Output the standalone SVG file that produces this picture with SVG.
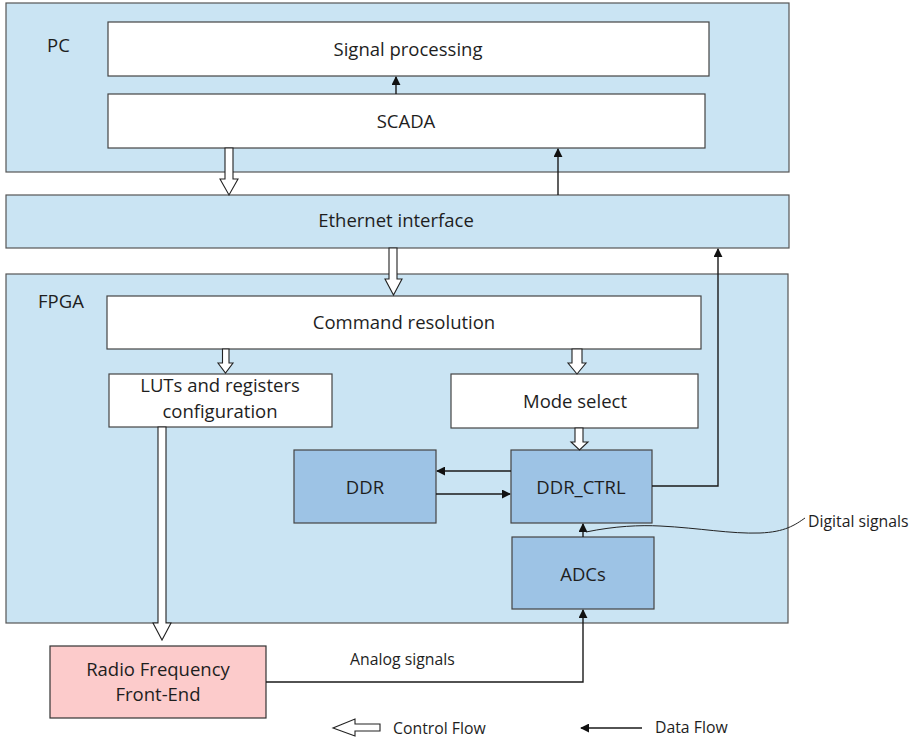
<svg xmlns="http://www.w3.org/2000/svg" width="917" height="741" viewBox="0 0 917 741">
  <defs>
    <style>
      .container { fill: #cae4f3; stroke: #555; stroke-width: 1.2; }
      .block { fill: #ffffff; stroke: #444; stroke-width: 1.2; }
      .dark { fill: #9dc3e5; stroke: #444; stroke-width: 1.2; }
      .rf { fill: #fccbcb; stroke: #333; stroke-width: 1.2; }
      .lbl { font-family: "Open Sans", "Liberation Sans", sans-serif; font-size: 18.5px; fill: #1e1e1e; }
      .mid { text-anchor: middle; }
      .small { font-size: 15.8px; }
      .ctrl { fill: #ffffff; stroke: #222; stroke-width: 1.1; stroke-linejoin: miter; }
      .data { fill: none; stroke: #1a1a1a; stroke-width: 1.4; }
    </style>
    <marker id="ah" viewBox="0 0 10 10" refX="9" refY="5" markerWidth="9" markerHeight="9" markerUnits="userSpaceOnUse" orient="auto">
      <path d="M0,0 L10,5 L0,10 z" fill="#111"/>
    </marker>
  </defs>

  <!-- PC -->
  <g id="pc">
    <rect class="container" x="6" y="3" width="783" height="169"/>
    <text class="lbl" x="47" y="52">PC</text>
  </g>
  <g id="signal-processing">
    <rect class="block" x="108" y="22" width="601" height="54"/>
    <text class="lbl mid" x="408" y="56">Signal processing</text>
  </g>
  <g id="scada">
    <rect class="block" x="108" y="94" width="597" height="54"/>
    <text class="lbl mid" x="406" y="128">SCADA</text>
  </g>

  <!-- Ethernet -->
  <g id="ethernet">
    <rect class="container" x="6" y="195" width="783" height="53"/>
    <text class="lbl mid" x="396" y="227">Ethernet interface</text>
  </g>

  <!-- FPGA -->
  <g id="fpga">
    <rect class="container" x="6" y="274" width="782" height="349"/>
    <text class="lbl" x="38" y="308">FPGA</text>
  </g>
  <g id="command-resolution">
    <rect class="block" x="107" y="296" width="594" height="53"/>
    <text class="lbl mid" x="404" y="329">Command resolution</text>
  </g>
  <g id="luts">
    <rect class="block" x="109" y="374" width="223" height="53"/>
    <text class="lbl mid" x="220" y="392">LUTs and registers</text>
    <text class="lbl mid" x="220" y="418">configuration</text>
  </g>
  <g id="mode-select">
    <rect class="block" x="451" y="374" width="247" height="54"/>
    <text class="lbl mid" x="575" y="408">Mode select</text>
  </g>
  <g id="ddr">
    <rect class="dark" x="294" y="450" width="142" height="73"/>
    <text class="lbl mid" x="365" y="494">DDR</text>
  </g>
  <g id="ddr-ctrl">
    <rect class="dark" x="511" y="450" width="141" height="73"/>
    <text class="lbl mid" x="581" y="494">DDR_CTRL</text>
  </g>
  <g id="adcs">
    <rect class="dark" x="512" y="537" width="142" height="72"/>
    <text class="lbl mid" x="583" y="581">ADCs</text>
  </g>

  <!-- RF front-end -->
  <g id="rf-front-end">
    <rect class="rf" x="50" y="646" width="216" height="72"/>
    <text class="lbl mid" x="158" y="676">Radio Frequency</text>
    <text class="lbl mid" x="158" y="701">Front-End</text>
  </g>

  <!-- Connectors -->
  <g id="connectors">
    <!-- control flow (hollow block arrows) -->
    <path class="ctrl" d="M225,148 L233,148 L233,179 L238,179 L229,195 L220,179 L225,179 Z"/>
    <path class="ctrl" d="M389,248 L397,248 L397,279 L402,279 L393.5,295 L385,279 L389,279 Z"/>
    <path class="ctrl" d="M222.5,349 L229,349 L229,363 L233,363 L225.5,373 L218,363 L222.5,363 Z"/>
    <path class="ctrl" d="M572,349 L582,349 L582,363 L586,363 L577,374 L568,363 L572,363 Z"/>
    <path class="ctrl" d="M575,428 L583,428 L583,442 L588,442 L579.5,450 L571,442 L575,442 Z"/>
    <path class="ctrl" d="M158,427 L166,427 L166,623 L171,623 L162,640 L153,623 L158,623 Z"/>

    <!-- data flow -->
    <line class="data" x1="396" y1="94" x2="396" y2="77" marker-end="url(#ah)"/>
    <line class="data" x1="558" y1="195" x2="558" y2="149" marker-end="url(#ah)"/>
    <polyline class="data" points="652,486 718,486 718,249" marker-end="url(#ah)"/>
    <line class="data" x1="511" y1="471" x2="437" y2="471" marker-end="url(#ah)"/>
    <line class="data" x1="436" y1="494" x2="510" y2="494" marker-end="url(#ah)"/>
    <line class="data" x1="583" y1="537" x2="583" y2="524" marker-end="url(#ah)"/>
    <polyline class="data" points="266,682 583,682 583,610" marker-end="url(#ah)"/>

    <!-- callout for the digital signals -->
    <path d="M586,532 C615,526 640,525 660,526 C700,528 730,534 760,533 C785,532 795,525 805,518" fill="none" stroke="#222" stroke-width="1"/>

    <text class="lbl small" x="350" y="665">Analog signals</text>
    <text class="lbl small" x="808" y="527">Digital signals</text>
  </g>

  <!-- Legend -->
  <g id="legend">
    <path class="ctrl" d="M380,724 L380,731 L355,731 L355,736 L333,728 L355,719 L355,724 Z"/>
    <text class="lbl small" x="393" y="734">Control Flow</text>
    <line class="data" x1="642" y1="728" x2="581" y2="728" marker-end="url(#ah)"/>
    <text class="lbl small" x="655" y="733">Data Flow</text>
  </g>
</svg>
